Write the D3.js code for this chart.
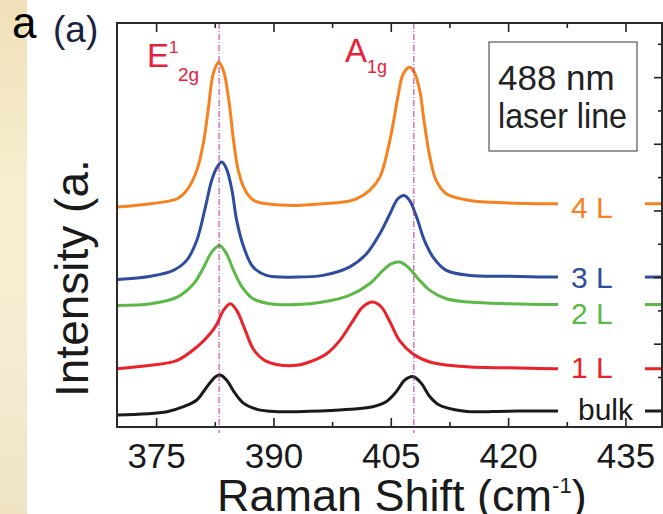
<!DOCTYPE html>
<html>
<head>
<meta charset="utf-8">
<script src="https://cdn.jsdelivr.net/npm/d3@7"></script>
<style>
  body { margin: 0; background: #fff; }
  svg { display: block; font-family: "Liberation Sans", Arial, Helvetica, sans-serif; }
</style>
</head>
<body>
<div id="chart"></div>
<script>
// Raman spectra: [shift (cm-1), intensity (a.u., offset)]
var layer4L = [[370,24.4],[374.3,24.8],[377.7,25.4],[378.9,26.4],[380.2,28.8],[381.1,32.4],[381.7,36.4],[382.3,40.4],[383.0,41.8],[383.6,40.8],[384.3,37.2],[384.9,32.4],[385.5,28.8],[386.4,26.4],[387.5,25.2],[389.2,24.8],[393.0,24.6],[396.3,24.8],[398.9,25.0],[400.6,25.4],[402.3,26.4],[403.6,28.0],[404.6,31.2],[405.3,34.4],[405.9,37.6],[406.6,40.4],[407.4,41.2],[408.0,40.6],[408.7,38.4],[409.3,34.4],[410.0,30.4],[410.8,27.6],[412.1,26.0],[415.1,25.2],[420,24.9],[426,24.8],[440,24.8]];
var layer3L = [[370,15.7],[374.3,16.1],[377.2,16.8],[378.9,18.0],[380.2,20.4],[381.3,24.4],[382.1,27.6],[382.8,29.2],[383.4,29.8],[384.0,29.0],[384.7,26.4],[385.3,22.8],[386.2,19.6],[387.4,17.2],[389.1,16.2],[393.0,16.0],[396.3,16.2],[399.7,17.2],[401.9,18.8],[403.6,21.2],[404.9,23.6],[405.9,25.4],[406.7,25.8],[407.4,25.2],[408.3,23.2],[409.3,20.4],[410.4,18.4],[412.1,16.8],[415.1,16.2],[420,16.1],[426,16.0],[440,16.0]];
var layer2L = [[370,12.6],[374.3,12.8],[377.7,13.6],[379.8,15.2],[381.1,17.2],[382.1,19.0],[383.1,19.8],[384.0,18.8],[384.9,16.8],[386.0,14.8],[387.4,13.4],[389.6,12.8],[393.0,12.7],[396.3,13.0],[399.7,13.8],[402.3,15.2],[404.0,16.8],[405.1,17.6],[406.1,17.8],[407.2,17.2],[408.5,15.8],[410.0,14.4],[412.1,13.4],[415.1,13.0],[420,12.8],[426,12.7],[440,12.7]];
var layer1L = [[370,5.0],[374.3,5.4],[377.7,6.0],[380.2,7.6],[381.9,9.2],[382.8,10.4],[383.6,12.0],[384.5,12.8],[385.3,12.0],[386.4,9.6],[387.4,7.4],[388.7,6.1],[390.4,5.5],[393.0,5.4],[394.6,5.8],[396.8,6.8],[398.5,8.4],[400.2,10.8],[401.4,12.4],[402.7,13.0],[403.8,12.4],[404.9,10.6],[406.1,8.4],[407.8,6.8],[410,5.8],[412.5,5.4],[415.1,5.2],[420,5.1],[426,5.0],[440,5.0]];
var layerBulk = [[370,-0.56],[376.4,-0.16],[378.5,0.44],[380.2,1.24],[381.5,2.84],[382.6,4.04],[383.2,4.24],[384.0,3.64],[385.1,2.04],[386.2,0.84],[387.9,0.12],[390.4,-0.16],[393.0,-0.16],[398.5,0.04],[402.7,0.44],[404.4,1.04],[405.7,2.24],[406.8,3.64],[407.9,4.04],[408.9,3.24],[410.0,1.64],[411.2,0.64],[413.4,0.04],[415.1,-0.16],[420,-0.1],[426,-0.08],[440,-0.08]];

var seriesNames = ["4 L", "3 L", "2 L", "1 L", "bulk"];
var seriesData = [layer4L, layer3L, layer2L, layer1L, layerBulk];
var seriesColors = ["#f5821f", "#2f4d9f", "#5cb947", "#ea2229", "#1a1a1a"];

// bulk peak positions (dash-dot guides)
var peakLines = [383.05, 407.95];

var xMajor = [375, 390, 405, 420, 435];
var xMinor = [382.5, 397.5, 412.5, 427.5];
var yMajor = [0, 8, 16, 24, 32, 40];
var yMinor = [4, 12, 20, 28, 36, 44];

var w = 663, h = 514;
var frameL = 117, frameT = 23, frameB = 427, frameR = 662;

var svg = d3.select("#chart").append("svg")
    .attr("width", w)
    .attr("height", h);

// beige strip on the left (scan of the page behind)
var grad = svg.append("defs").append("linearGradient")
    .attr("id", "paper")
    .attr("x1", 0).attr("y1", 0).attr("x2", 0).attr("y2", 1);
grad.append("stop").attr("offset", "0%").attr("stop-color", "#efe0b8");
grad.append("stop").attr("offset", "40%").attr("stop-color", "#f8efd2");
grad.append("stop").attr("offset", "75%").attr("stop-color", "#f5ead0");
grad.append("stop").attr("offset", "100%").attr("stop-color", "#efe3c4");
svg.append("rect")
    .attr("x", 0).attr("y", 0)
    .attr("width", 27).attr("height", h)
    .attr("fill", "url(#paper)");

var x = d3.scaleLinear()
    .domain([370, 439.8])
    .range([frameL, 663]);

var y = d3.scaleLinear()
    .domain([-2, 46.5])
    .range([frameB, frameT]);

var line = d3.line()
    .x(function(d) { return x(d[0]); })
    .y(function(d) { return y(d[1]); })
    .curve(d3.curveCatmullRom.alpha(0.5));

svg.append("clipPath").attr("id", "plotclip")
    .append("rect")
    .attr("x", frameL).attr("y", frameT)
    .attr("width", frameR - frameL).attr("height", frameB - frameT);

var plot = svg.append("g").attr("clip-path", "url(#plotclip)");

plot.selectAll(".spec")
    .data(seriesData)
    .enter()
    .append("path")
    .attr("class", "spec")
    .attr("d", line)
    .attr("fill", "none")
    .attr("stroke", function(d, i) { return seriesColors[i]; })
    .attr("stroke-width", 3)
    .attr("stroke-linejoin", "round");

// white patches where the layer labels sit on the traces
var labelDy = [14, 11, 19, 9, 9];
seriesData.forEach(function(d, i) {
    var yEnd = y(d[d.length - 1][1]);
    plot.append("rect")
        .attr("x", 558)
        .attr("y", yEnd - 10)
        .attr("width", 645 - 558)
        .attr("height", 20)
        .attr("fill", "#fff");
    svg.append("text")
        .attr("x", seriesNames[i] == "bulk" ? 578 : 571)
        .attr("y", yEnd + labelDy[i])
        .attr("font-size", 30)
        .attr("fill", seriesColors[i])
        .text(seriesNames[i]);
});

// dash-dot lines at the bulk peak positions
svg.selectAll(".peak")
    .data(peakLines)
    .enter()
    .append("line")
    .attr("class", "peak")
    .attr("x1", function(d) { return x(d); })
    .attr("x2", function(d) { return x(d); })
    .attr("y1", frameT)
    .attr("y2", frameB + 6)
    .attr("stroke", "#c4308f")
    .attr("stroke-width", 1)
    .attr("stroke-dasharray", "6,2,1,2");

// axes (ticks pointing inward)
var gBottom = svg.append("g")
    .attr("transform", "translate(0," + frameB + ")")
    .call(d3.axisBottom(x).tickValues(xMajor).tickSize(-9).tickPadding(0));
gBottom.selectAll("text")
    .attr("y", 41)
    .attr("dy", 0)
    .attr("font-size", 35)
    .attr("font-family", "Liberation Sans, Arial, sans-serif")
    .attr("fill", "#1a1a1a");
svg.append("g")
    .attr("transform", "translate(0," + frameB + ")")
    .call(d3.axisBottom(x).tickValues(xMinor).tickSize(-5).tickFormat(""));
svg.append("g")
    .attr("transform", "translate(0," + frameT + ")")
    .call(d3.axisTop(x).tickValues(xMajor).tickSize(-9).tickFormat(""));
svg.append("g")
    .attr("transform", "translate(0," + frameT + ")")
    .call(d3.axisTop(x).tickValues(xMinor).tickSize(-5).tickFormat(""));
svg.append("g")
    .attr("transform", "translate(" + frameR + ",0)")
    .call(d3.axisLeft(y).tickValues(yMajor).tickSize(8).tickFormat(""));
svg.append("g")
    .attr("transform", "translate(" + frameR + ",0)")
    .call(d3.axisLeft(y).tickValues(yMinor).tickSize(4).tickFormat(""));

svg.selectAll(".domain").remove();
svg.selectAll(".tick line")
    .attr("stroke", "#222")
    .attr("stroke-width", 1.6);

// frame
svg.append("rect")
    .attr("x", frameL).attr("y", frameT)
    .attr("width", frameR - frameL).attr("height", frameB - frameT)
    .attr("fill", "none")
    .attr("stroke", "#2a2a2a")
    .attr("stroke-width", 2);

// peak labels
var eLab = svg.append("text")
    .attr("fill", "#e8213a");
eLab.append("tspan").attr("x", 147).attr("y", 67).attr("font-size", 33).text("E");
eLab.append("tspan").attr("x", 169).attr("y", 53).attr("font-size", 17).text("1");
eLab.append("tspan").attr("x", 178).attr("y", 81).attr("font-size", 19).text("2g");

var aLab = svg.append("text")
    .attr("fill", "#e8213a");
aLab.append("tspan").attr("x", 345).attr("y", 62).attr("font-size", 33).text("A");
aLab.append("tspan").attr("x", 367).attr("y", 73).attr("font-size", 18).text("1g");

// laser box
svg.append("rect")
    .attr("x", 489).attr("y", 42)
    .attr("width", 148).attr("height", 109)
    .attr("fill", "#fff")
    .attr("stroke", "#555")
    .attr("stroke-width", 1.2);
svg.append("text")
    .attr("x", 498).attr("y", 90)
    .attr("font-size", 35)
    .attr("fill", "#222")
    .text("488 nm");
svg.append("text")
    .attr("x", 498).attr("y", 128)
    .attr("font-size", 35)
    .attr("fill", "#222")
    .attr("textLength", 129)
    .attr("lengthAdjust", "spacingAndGlyphs")
    .text("laser line");

// panel letters
svg.append("text")
    .attr("x", 12).attr("y", 38)
    .attr("font-size", 44)
    .attr("fill", "#000")
    .text("a");
svg.append("text")
    .attr("x", 53).attr("y", 42)
    .attr("font-size", 37)
    .attr("fill", "#1b2240")
    .text("(a)");

// axis titles
svg.append("text")
    .attr("transform", "translate(88,397) rotate(-90)")
    .attr("font-size", 46)
    .attr("fill", "#1a1a1a")
    .text("Intensity (a.");

var xt = svg.append("text")
    .attr("x", 217).attr("y", 511)
    .attr("font-size", 45)
    .attr("fill", "#1a1a1a");
xt.append("tspan").text("Raman Shift (cm");
xt.append("tspan").attr("font-size", 22).attr("dy", -18).text("-1");
xt.append("tspan").attr("dy", 18).text(")");
</script>
</body>
</html>
